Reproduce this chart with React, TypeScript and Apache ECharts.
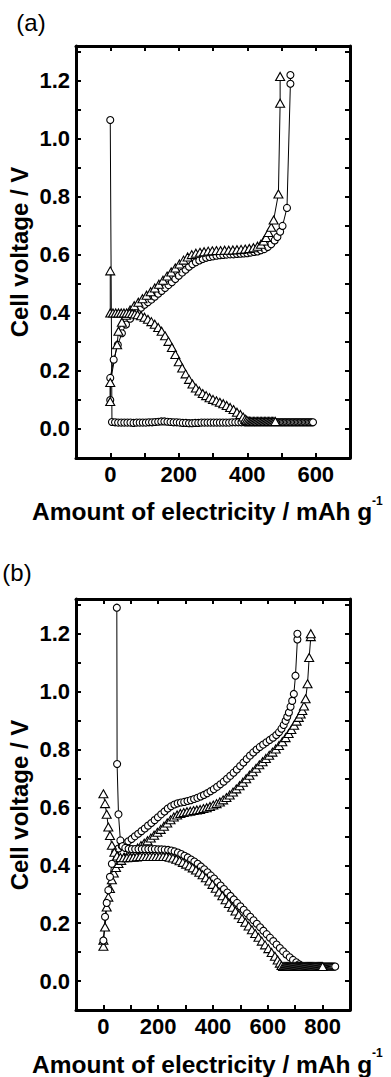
import React, { useEffect, useRef } from "react";
import * as echarts from "echarts";

// ---------- tick labels ----------
const xLabelsA = [0, 200, 400, 600];
const xLabelsB = [0, 200, 400, 600, 800];
const yLabels = [0.0, 0.2, 0.4, 0.6, 0.8, 1.0, 1.2];

// ---------- panel (a) ----------
const aCircleCharge: number[][] = [
  [0, 0.100], [0, 0.176], [10, 0.239], [22, 0.290], [34, 0.330], [46, 0.360], [58, 0.380], [70, 0.395],
  [80, 0.407], [90, 0.418], [100, 0.428], [110, 0.437], [120, 0.446], [130, 0.456], [140, 0.466], [150, 0.476],
  [160, 0.486], [170, 0.496], [180, 0.506], [190, 0.517], [200, 0.528], [210, 0.539], [220, 0.549], [230, 0.559],
  [240, 0.568], [250, 0.575], [260, 0.581], [270, 0.586], [280, 0.590], [290, 0.593], [300, 0.595], [310, 0.597],
  [320, 0.599], [330, 0.600], [340, 0.601], [350, 0.602], [360, 0.602], [370, 0.603], [380, 0.604], [390, 0.605],
  [400, 0.606], [410, 0.608], [420, 0.610], [430, 0.612], [440, 0.616], [450, 0.620], [460, 0.627], [470, 0.637],
  [480, 0.650], [488, 0.662], [496, 0.680], [503, 0.700], [516, 0.762], [526, 1.190], [526, 1.220],
];
const aTriangleCharge: number[][] = [
  [0, 0.095], [0, 0.160], [20, 0.290], [24, 0.337], [34, 0.368], [46, 0.392], [58, 0.410], [70, 0.425],
  [82, 0.437], [94, 0.449], [106, 0.461], [118, 0.473], [130, 0.486], [142, 0.499], [154, 0.513], [166, 0.527],
  [178, 0.541], [190, 0.555], [202, 0.569], [214, 0.582], [226, 0.593], [238, 0.601], [250, 0.606], [262, 0.609],
  [274, 0.611], [286, 0.613], [298, 0.614], [310, 0.615], [322, 0.615], [334, 0.616], [346, 0.616], [358, 0.617],
  [370, 0.618], [382, 0.619], [394, 0.620], [406, 0.622], [418, 0.625], [430, 0.630], [440, 0.637], [448, 0.648],
  [455, 0.660], [462, 0.677], [470, 0.695], [477, 0.720], [491, 0.810], [496, 1.123], [496, 1.215],
];
const aCircleDischarge: number[][] = [
  [0, 1.065], [5, 0.024], [14, 0.023], [23, 0.022], [32, 0.022], [41, 0.022], [50, 0.022], [59, 0.022],
  [68, 0.021], [77, 0.022], [86, 0.022], [95, 0.022], [104, 0.022], [113, 0.023], [122, 0.023], [131, 0.024],
  [140, 0.025], [149, 0.026], [158, 0.026], [167, 0.025], [176, 0.024], [185, 0.023], [194, 0.023], [203, 0.022],
  [212, 0.021], [221, 0.021], [230, 0.020], [239, 0.020], [248, 0.021], [257, 0.021], [266, 0.022], [275, 0.022],
  [284, 0.022], [293, 0.022], [302, 0.022], [311, 0.022], [320, 0.022], [329, 0.022], [338, 0.022], [347, 0.022],
  [356, 0.023], [365, 0.023], [374, 0.023], [383, 0.023], [392, 0.023], [396, 0.023], [400, 0.023], [404, 0.023],
  [408, 0.023], [412, 0.023], [416, 0.023], [420, 0.023], [424, 0.023], [428, 0.023], [432, 0.023], [436, 0.023],
  [440, 0.023], [444, 0.023], [448, 0.023], [452, 0.023], [456, 0.023], [460, 0.023], [464, 0.023], [468, 0.023],
  [472, 0.023], [476, 0.023], [480, 0.023], [484, 0.023], [488, 0.023], [492, 0.023], [496, 0.023], [500, 0.023],
  [504, 0.023], [508, 0.023], [512, 0.023], [516, 0.023], [520, 0.023], [524, 0.023], [528, 0.023], [532, 0.023],
  [536, 0.023], [540, 0.023], [544, 0.023], [548, 0.023], [552, 0.023], [556, 0.023], [560, 0.023], [564, 0.023],
  [568, 0.023], [572, 0.023], [576, 0.023], [580, 0.023], [584, 0.023], [588, 0.023], [592, 0.023],
];
const aTriangleDischarge: number[][] = [
  [0, 0.545], [0, 0.400], [8, 0.400], [16, 0.400], [24, 0.400], [32, 0.400], [40, 0.400], [48, 0.400],
  [56, 0.399], [64, 0.398], [72, 0.396], [80, 0.394], [90, 0.390], [100, 0.385], [110, 0.378], [120, 0.370],
  [130, 0.361], [140, 0.350], [150, 0.337], [160, 0.321], [170, 0.302], [180, 0.281], [190, 0.257], [200, 0.232],
  [210, 0.210], [220, 0.190], [230, 0.171], [240, 0.155], [250, 0.141], [260, 0.131], [270, 0.122], [280, 0.115],
  [290, 0.108], [300, 0.102], [310, 0.097], [320, 0.092], [330, 0.087], [340, 0.081], [350, 0.074], [360, 0.067],
  [370, 0.058], [380, 0.050], [388, 0.041], [394, 0.034], [398, 0.030], [402, 0.028], [406, 0.027], [410, 0.026],
  [414, 0.026], [418, 0.026], [422, 0.026], [426, 0.026], [430, 0.026], [434, 0.026], [438, 0.026], [442, 0.026],
  [446, 0.026], [450, 0.026], [454, 0.026], [458, 0.026], [462, 0.026], [466, 0.026], [470, 0.026], [474, 0.026],
  [478, 0.026], [482, 0.026],
];

// ---------- panel (b) ----------
const bCircleCharge: number[][] = [
  [0, 0.140], [6, 0.222], [12, 0.270], [18, 0.314], [24, 0.360], [31, 0.405], [43, 0.446], [55, 0.458],
  [67, 0.467], [79, 0.475], [91, 0.483], [103, 0.491], [115, 0.500], [127, 0.509], [139, 0.518], [151, 0.527],
  [163, 0.537], [175, 0.546], [187, 0.556], [199, 0.566], [211, 0.576], [223, 0.586], [235, 0.596], [247, 0.604],
  [259, 0.610], [271, 0.614], [283, 0.617], [295, 0.619], [307, 0.622], [319, 0.625], [331, 0.629], [343, 0.633],
  [355, 0.638], [367, 0.643], [379, 0.649], [391, 0.656], [403, 0.663], [415, 0.671], [427, 0.680], [439, 0.689],
  [451, 0.699], [463, 0.709], [475, 0.720], [487, 0.731], [499, 0.743], [511, 0.755], [523, 0.767], [535, 0.779],
  [547, 0.790], [559, 0.800], [571, 0.809], [583, 0.817], [595, 0.825], [607, 0.833], [619, 0.841], [631, 0.850],
  [641, 0.860], [650, 0.872], [658, 0.885], [665, 0.899], [671, 0.913], [677, 0.928], [683, 0.948], [689, 0.968],
  [695, 0.992], [701, 1.055], [708, 1.180], [708, 1.200],
];
const bTriangleCharge: number[][] = [
  [0, 0.120], [0, 0.141], [6, 0.187], [12, 0.256], [18, 0.290], [24, 0.320], [31, 0.350], [38, 0.373],
  [46, 0.392], [55, 0.406], [65, 0.417], [77, 0.427], [89, 0.436], [101, 0.444], [113, 0.452], [125, 0.460],
  [137, 0.468], [149, 0.476], [161, 0.485], [173, 0.494], [185, 0.504], [197, 0.514], [209, 0.524], [221, 0.535],
  [233, 0.546], [245, 0.557], [257, 0.567], [269, 0.574], [281, 0.579], [293, 0.582], [305, 0.585], [317, 0.587],
  [329, 0.589], [341, 0.591], [353, 0.593], [365, 0.596], [377, 0.599], [389, 0.603], [401, 0.608], [413, 0.613],
  [425, 0.619], [437, 0.626], [449, 0.634], [461, 0.643], [473, 0.653], [485, 0.664], [497, 0.675], [509, 0.687],
  [521, 0.699], [533, 0.711], [545, 0.723], [557, 0.735], [569, 0.747], [581, 0.758], [593, 0.769], [605, 0.780],
  [617, 0.791], [629, 0.802], [641, 0.814], [653, 0.827], [665, 0.841], [676, 0.855], [686, 0.869], [696, 0.884],
  [705, 0.898], [713, 0.911], [720, 0.923], [726, 0.935], [732, 0.950], [738, 0.975], [745, 1.027], [751, 1.118],
  [757, 1.190], [757, 1.200],
];
const bCircleDischarge: number[][] = [
  [49, 1.290], [50, 0.750], [55, 0.576], [62, 0.486], [70, 0.466], [80, 0.460], [92, 0.457], [104, 0.456],
  [116, 0.456], [128, 0.456], [140, 0.456], [152, 0.456], [164, 0.456], [176, 0.456], [188, 0.456], [200, 0.455],
  [212, 0.455], [224, 0.454], [236, 0.453], [248, 0.451], [260, 0.448], [272, 0.444], [284, 0.439], [296, 0.433],
  [308, 0.427], [320, 0.420], [332, 0.413], [344, 0.405], [356, 0.396], [368, 0.386], [380, 0.376], [392, 0.365],
  [404, 0.354], [416, 0.342], [428, 0.330], [440, 0.318], [452, 0.306], [464, 0.294], [476, 0.282], [488, 0.270],
  [500, 0.258], [512, 0.246], [524, 0.234], [536, 0.222], [548, 0.210], [560, 0.198], [572, 0.186], [584, 0.174],
  [596, 0.162], [608, 0.150], [620, 0.138], [632, 0.126], [644, 0.114], [656, 0.103], [668, 0.092], [680, 0.082],
  [692, 0.073], [704, 0.065], [714, 0.058], [722, 0.053], [730, 0.050], [734, 0.050], [738, 0.050], [742, 0.050],
  [746, 0.050], [750, 0.050], [754, 0.050], [758, 0.050], [762, 0.050], [766, 0.050], [770, 0.050], [774, 0.050],
  [778, 0.050], [782, 0.050], [786, 0.050], [790, 0.050], [794, 0.050], [798, 0.050], [802, 0.050], [806, 0.050],
  [810, 0.050], [814, 0.050], [818, 0.050], [822, 0.050], [826, 0.050], [830, 0.050], [834, 0.050], [838, 0.050],
  [842, 0.050], [846, 0.050],
];
const bTriangleDischarge: number[][] = [
  [0, 0.647], [6, 0.613], [12, 0.576], [18, 0.532], [24, 0.503], [31, 0.469], [40, 0.445], [50, 0.432],
  [62, 0.427], [74, 0.426], [86, 0.426], [98, 0.427], [110, 0.428], [122, 0.429], [134, 0.430], [146, 0.430],
  [158, 0.430], [170, 0.430], [182, 0.430], [194, 0.430], [206, 0.430], [218, 0.430], [230, 0.430], [242, 0.428],
  [254, 0.425], [266, 0.421], [278, 0.416], [290, 0.410], [302, 0.404], [314, 0.398], [326, 0.391], [338, 0.384],
  [350, 0.376], [362, 0.367], [374, 0.357], [386, 0.346], [398, 0.334], [410, 0.321], [422, 0.308], [434, 0.295],
  [446, 0.281], [458, 0.268], [470, 0.255], [482, 0.242], [494, 0.229], [506, 0.216], [518, 0.203], [530, 0.190],
  [542, 0.177], [554, 0.164], [566, 0.151], [578, 0.138], [590, 0.125], [602, 0.112], [614, 0.099], [626, 0.086],
  [636, 0.073], [644, 0.062], [650, 0.054], [656, 0.050], [660, 0.050], [664, 0.050], [668, 0.050], [672, 0.050],
  [676, 0.050], [680, 0.050], [684, 0.050], [688, 0.050], [692, 0.050], [696, 0.050], [700, 0.050], [704, 0.050],
  [708, 0.050], [712, 0.050], [716, 0.050], [720, 0.050], [724, 0.050], [728, 0.050], [732, 0.050], [736, 0.050],
  [740, 0.050], [744, 0.050], [748, 0.050], [752, 0.050], [756, 0.050], [760, 0.050], [764, 0.050], [768, 0.050],
  [772, 0.050], [776, 0.050], [780, 0.050], [784, 0.050], [788, 0.050], [792, 0.050], [796, 0.050], [800, 0.050],
];

const FONT = '"Liberation Sans", Arial, Helvetica, sans-serif';

function xAxes(gridIndex: number, max: number, labels: number[]) {
  const common = {
    type: "value",
    gridIndex,
    min: -100,
    max,
    interval: 100,
    splitLine: { show: false },
    axisLine: { show: true, onZero: false, lineStyle: { color: "#000", width: 3 } },
    axisTick: { show: true, inside: true, length: 5, lineStyle: { color: "#000", width: 2 } },
  };
  return [
    {
      ...common,
      position: "bottom",
      axisLabel: {
        show: true,
        margin: 5,
        color: "#000",
        fontSize: 22,
        fontWeight: "bold",
        fontFamily: FONT,
        formatter: (v: number) => {
          const t = labels.find((l) => Math.abs(l - v) < 1e-6);
          return t === undefined ? "" : String(t);
        },
      },
    },
    { ...common, position: "top", axisLabel: { show: false } },
  ];
}

function yAxes(gridIndex: number) {
  const common = {
    type: "value",
    gridIndex,
    min: -0.1,
    max: 1.32,
    interval: 0.1,
    splitLine: { show: false },
    axisLine: { show: true, onZero: false, lineStyle: { color: "#000", width: 3 } },
    axisTick: { show: true, inside: true, length: 5, lineStyle: { color: "#000", width: 2 } },
  };
  return [
    {
      ...common,
      position: "left",
      axisLabel: {
        show: true,
        margin: 6,
        color: "#000",
        fontSize: 22,
        fontWeight: "bold",
        fontFamily: FONT,
        formatter: (v: number) => {
          const t = yLabels.find((l) => Math.abs(l - v) < 1e-6);
          return t === undefined ? "" : t.toFixed(1);
        },
      },
    },
    { ...common, position: "right", axisLabel: { show: false } },
  ];
}

function makeSeries(data: number[][], kind: "circle" | "triangle", axis: number) {
  return {
    type: "line",
    xAxisIndex: axis,
    yAxisIndex: axis,
    data,
    symbol: kind,
    symbolSize: kind === "circle" ? 7 : [9, 8],
    showSymbol: true,
    showAllSymbol: true,
    silent: true,
    itemStyle: { color: "#fff", borderColor: "#000", borderWidth: 1.1 },
    lineStyle: { color: "#000", width: 1 },
    emphasis: { disabled: true },
  };
}

function text(x: number, y: number, str: string, size: number, weight: string, align: string, rotation = 0) {
  return {
    type: "text",
    x,
    y,
    rotation,
    silent: true,
    style: {
      text: str,
      fill: "#000",
      fontSize: size,
      fontWeight: weight,
      fontFamily: FONT,
      align,
      verticalAlign: "middle",
      textAlign: align,
      textVerticalAlign: "middle",
    },
  };
}

export default function App() {
  const ref = useRef<HTMLDivElement>(null);
  useEffect(() => {
    if (!ref.current) return;
    const chart = echarts.init(ref.current, null, { renderer: "svg" });
    const option: any = {
      animation: false,
      backgroundColor: "#fff",
      grid: [
        { left: 76, top: 46, width: 274, height: 412 },
        { left: 76, top: 599, width: 274, height: 411 },
      ],
      xAxis: [...xAxes(0, 700, xLabelsA), ...xAxes(1, 900, xLabelsB)],
      yAxis: [...yAxes(0), ...yAxes(1)],
      series: [
        makeSeries(aCircleCharge, "circle", 0),
        makeSeries(aTriangleCharge, "triangle", 0),
        makeSeries(aCircleDischarge, "circle", 0),
        makeSeries(aTriangleDischarge, "triangle", 0),
        makeSeries(bTriangleCharge, "triangle", 2),
        makeSeries(bCircleCharge, "circle", 2),
        makeSeries(bCircleDischarge, "circle", 2),
        makeSeries(bTriangleDischarge, "triangle", 2),
      ],
      graphic: [
        text(31, 22, "(a)", 24, "normal", "center"),
        text(17, 572, "(b)", 24, "normal", "center"),
        text(19, 252, "Cell voltage / V", 24, "bold", "center", Math.PI / 2),
        text(19, 805, "Cell voltage / V", 24, "bold", "center", Math.PI / 2),
        text(32, 511, "Amount of electricity / mAh g", 24.5, "bold", "left"),
        text(372, 501, "-1", 12, "bold", "left"),
        text(32, 1064, "Amount of electricity / mAh g", 24.5, "bold", "left"),
        text(372, 1053, "-1", 12, "bold", "left"),
      ],
    };
    chart.setOption(option);
    return () => chart.dispose();
  }, []);
  return <div ref={ref} style={{ position: "absolute", left: 0, top: 0, width: 391, height: 1077 }} />;
}
